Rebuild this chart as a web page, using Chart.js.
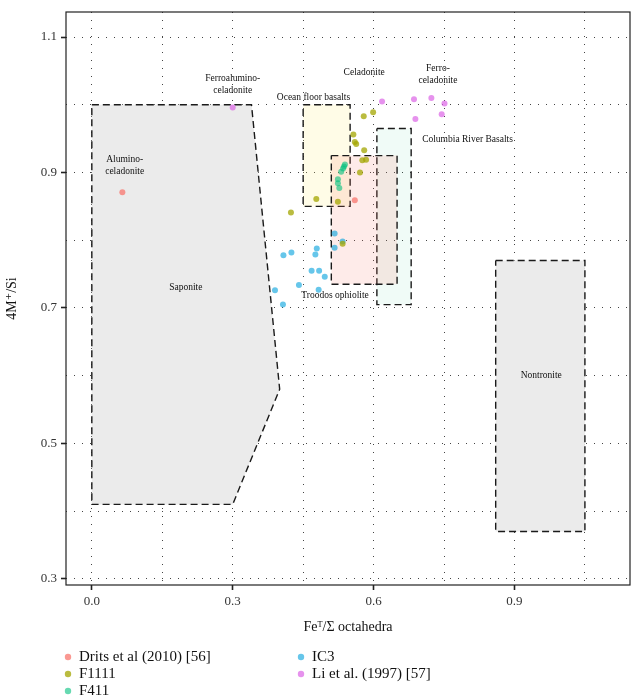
<!DOCTYPE html>
<html>
<head>
<meta charset="utf-8">
<script src="https://cdn.jsdelivr.net/npm/chart.js@4.4.1/dist/chart.umd.min.js"></script>
<style>
  html, body { margin: 0; padding: 0; background: #fff; overflow: hidden; }
  #wrap { width: 633px; height: 710px; }
</style>
</head>
<body>
<div id="wrap"><canvas id="chart" width="633" height="710"></canvas></div>
<script>
// --- point data (FeT/Σ octahedra, 4M+/Si) ---
const seriesNames = ['Drits et al (2010) [56]', 'F1111', 'F411', 'IC3', 'Li et al. (1997) [57]'];
const seriesColors = ['rgba(248,118,109,0.75)', 'rgba(163,165,0,0.75)', 'rgba(0,191,125,0.6)', 'rgba(0,160,220,0.6)', 'rgba(220,100,230,0.7)'];

const dritsX = [0.065, 0.560];
const dritsY = [0.871, 0.859];

const f1111X = [0.579, 0.599, 0.557, 0.560, 0.563, 0.580, 0.576, 0.584, 0.571, 0.478, 0.524, 0.424, 0.534];
const f1111Y = [0.983, 0.989, 0.956, 0.945, 0.942, 0.933, 0.918, 0.919, 0.900, 0.861, 0.857, 0.841, 0.795];

const f411X = [0.539, 0.537, 0.535, 0.531, 0.524, 0.524, 0.527];
const f411Y = [0.912, 0.909, 0.906, 0.901, 0.890, 0.884, 0.877];

const ic3X = [0.517, 0.534, 0.517, 0.408, 0.425, 0.479, 0.476, 0.468, 0.484, 0.496, 0.390, 0.441, 0.483, 0.407];
const ic3Y = [0.810, 0.798, 0.789, 0.778, 0.782, 0.788, 0.779, 0.755, 0.755, 0.746, 0.726, 0.734, 0.727, 0.705];

const liX = [0.300, 0.618, 0.686, 0.723, 0.751, 0.745, 0.689];
const liY = [0.996, 1.005, 1.008, 1.010, 1.002, 0.986, 0.979];

// --- field outlines ---
const saponiteX = [0.0, 0.34, 0.40, 0.30, 0.0, 0.0];
const saponiteY = [1.0, 1.0, 0.58, 0.41, 0.41, 1.0];
const nontroniteX = [0.86, 1.05, 1.05, 0.86, 0.86];
const nontroniteY = [0.77, 0.77, 0.37, 0.37, 0.77];
const oceanX = [0.45, 0.55, 0.55, 0.45, 0.45];
const oceanY = [1.0, 1.0, 0.85, 0.85, 1.0];
const columbiaX = [0.607, 0.68, 0.68, 0.607, 0.607];
const columbiaY = [0.965, 0.965, 0.705, 0.705, 0.965];
const troodosX = [0.51, 0.65, 0.65, 0.51, 0.51];
const troodosY = [0.925, 0.925, 0.735, 0.735, 0.925];

// --- field labels ---
const fieldLabels = [
  { text: ['Alumino-', 'celadonite'], x: 0.07, y: 0.91 },
  { text: ['Ferroalumino-', 'celadonite'], x: 0.30, y: 1.03 },
  { text: ['Ocean floor basalts'], x: 0.472, y: 1.011 },
  { text: ['Celadonite'], x: 0.58, y: 1.047 },
  { text: ['Ferro-', 'celadonite'], x: 0.737, y: 1.045 },
  { text: ['Columbia River Basalts'], x: 0.80, y: 0.949 },
  { text: ['Saponite'], x: 0.20, y: 0.73 },
  { text: ['Troodos ophiolite'], x: 0.518, y: 0.718 },
  { text: ['Nontronite'], x: 0.957, y: 0.60 }
];

const xTicks = [0.0, 0.3, 0.6, 0.9];
const yTicks = [0.3, 0.5, 0.7, 0.9, 1.1];

function pts(xs, ys) {
  return xs.map((x, i) => ({ x: x, y: ys[i] }));
}

function field(xs, ys, fillColor, order) {
  return {
    label: '_field',
    data: pts(xs, ys),
    showLine: true,
    pointRadius: 0,
    borderColor: '#1a1a1a',
    borderWidth: 1.4,
    borderDash: [7, 4],
    backgroundColor: fillColor,
    fill: 'shape',
    tension: 0,
    order: order
  };
}

const pointSets = [[dritsX, dritsY], [f1111X, f1111Y], [f411X, f411Y], [ic3X, ic3Y], [liX, liY]];
const datasets = pointSets.map((s, i) => ({
  label: seriesNames[i],
  data: pts(s[0], s[1]),
  pointRadius: 3,
  pointHoverRadius: 3,
  pointBorderWidth: 0,
  backgroundColor: seriesColors[i],
  borderColor: seriesColors[i],
  order: 0
}));

datasets.push(field(troodosX, troodosY, 'rgba(248,118,109,0.15)', 1));
datasets.push(field(oceanX, oceanY, 'rgba(255,236,120,0.18)', 2));
datasets.push(field(columbiaX, columbiaY, 'rgba(0,191,125,0.06)', 3));
datasets.push(field(nontroniteX, nontroniteY, '#ebebeb', 4));
datasets.push(field(saponiteX, saponiteY, '#ebebeb', 5));

function near(v, list) {
  return list.some(t => Math.abs(v - t) < 1e-6);
}

const serif = "'Liberation Serif', 'DejaVu Serif', serif";

const extras = {
  id: 'extras',
  afterDatasetsDraw(chart) {
    const ctx = chart.ctx;
    const xs = chart.scales.x, ys = chart.scales.y;
    const a = chart.chartArea;
    ctx.save();
    // field labels
    ctx.fillStyle = '#111';
    ctx.font = '9.5px ' + serif;
    ctx.textAlign = 'center';
    ctx.textBaseline = 'middle';
    fieldLabels.forEach(l => {
      const px = xs.getPixelForValue(l.x), py = ys.getPixelForValue(l.y);
      const n = l.text.length;
      l.text.forEach((t, i) => ctx.fillText(t, px, py + (i - (n - 1) / 2) * 12));
    });
    // panel border
    ctx.strokeStyle = '#222';
    ctx.lineWidth = 1.2;
    ctx.setLineDash([]);
    ctx.strokeRect(a.left, a.top, a.right - a.left, a.bottom - a.top);
    // legend, in two columns
    ctx.font = '15px ' + serif;
    ctx.textAlign = 'left';
    const cols = [[0, 1, 2], [3, 4]];
    const colX = [68, 301];
    cols.forEach((c, ci) => {
      c.forEach((di, ri) => {
        const y = 657 + ri * 17;
        ctx.fillStyle = seriesColors[di];
        ctx.beginPath();
        ctx.arc(colX[ci], y, 3.2, 0, Math.PI * 2);
        ctx.fill();
        ctx.fillStyle = '#111';
        ctx.fillText(seriesNames[di], colX[ci] + 11, y);
      });
    });
    ctx.restore();
  }
};

new Chart(document.getElementById('chart'), {
  type: 'scatter',
  data: { datasets: datasets },
  options: {
    responsive: false,
    animation: false,
    layout: { padding: { left: 0, right: 1, top: 12, bottom: 70 } },
    plugins: {
      legend: { display: false },
      tooltip: { enabled: false }
    },
    scales: {
      x: {
        type: 'linear',
        min: -0.055,
        max: 1.146,
        afterFit: s => { s.height = 55; },
        border: { display: false, dash: [1, 7] },
        grid: {
          color: '#444',
          lineWidth: 1,
          tickLength: 5,
          tickWidth: 1.6,
          tickBorderDash: [],
          tickColor: c => near(c.tick.value, xTicks) ? '#222' : 'rgba(0,0,0,0)'
        },
        ticks: {
          stepSize: 0.15,
          includeBounds: false,
          autoSkip: false,
          maxRotation: 0,
          padding: 4,
          color: '#333',
          font: { family: serif, size: 13 },
          callback: v => near(v, xTicks) ? v.toFixed(1) : ''
        },
        title: {
          display: true,
          text: 'Feᵀ/Σ octahedra',
          color: '#111',
          font: { family: serif, size: 14 },
          padding: { top: 2 }
        }
      },
      y: {
        type: 'linear',
        min: 0.291,
        max: 1.137,
        afterFit: s => { s.width = 66; },
        border: { display: false, dash: [1, 7] },
        grid: {
          color: '#444',
          lineWidth: 1,
          tickLength: 5,
          tickWidth: 1.6,
          tickBorderDash: [],
          tickColor: c => near(c.tick.value, yTicks) ? '#222' : 'rgba(0,0,0,0)'
        },
        ticks: {
          stepSize: 0.1,
          includeBounds: false,
          autoSkip: false,
          padding: 4,
          color: '#333',
          font: { family: serif, size: 13 },
          callback: v => near(v, yTicks) ? v.toFixed(1) : ''
        },
        title: {
          display: true,
          text: '4M⁺/Si',
          color: '#111',
          font: { family: serif, size: 14 },
          padding: { bottom: 4 }
        }
      }
    }
  },
  plugins: [extras]
});
</script>
</body>
</html>
